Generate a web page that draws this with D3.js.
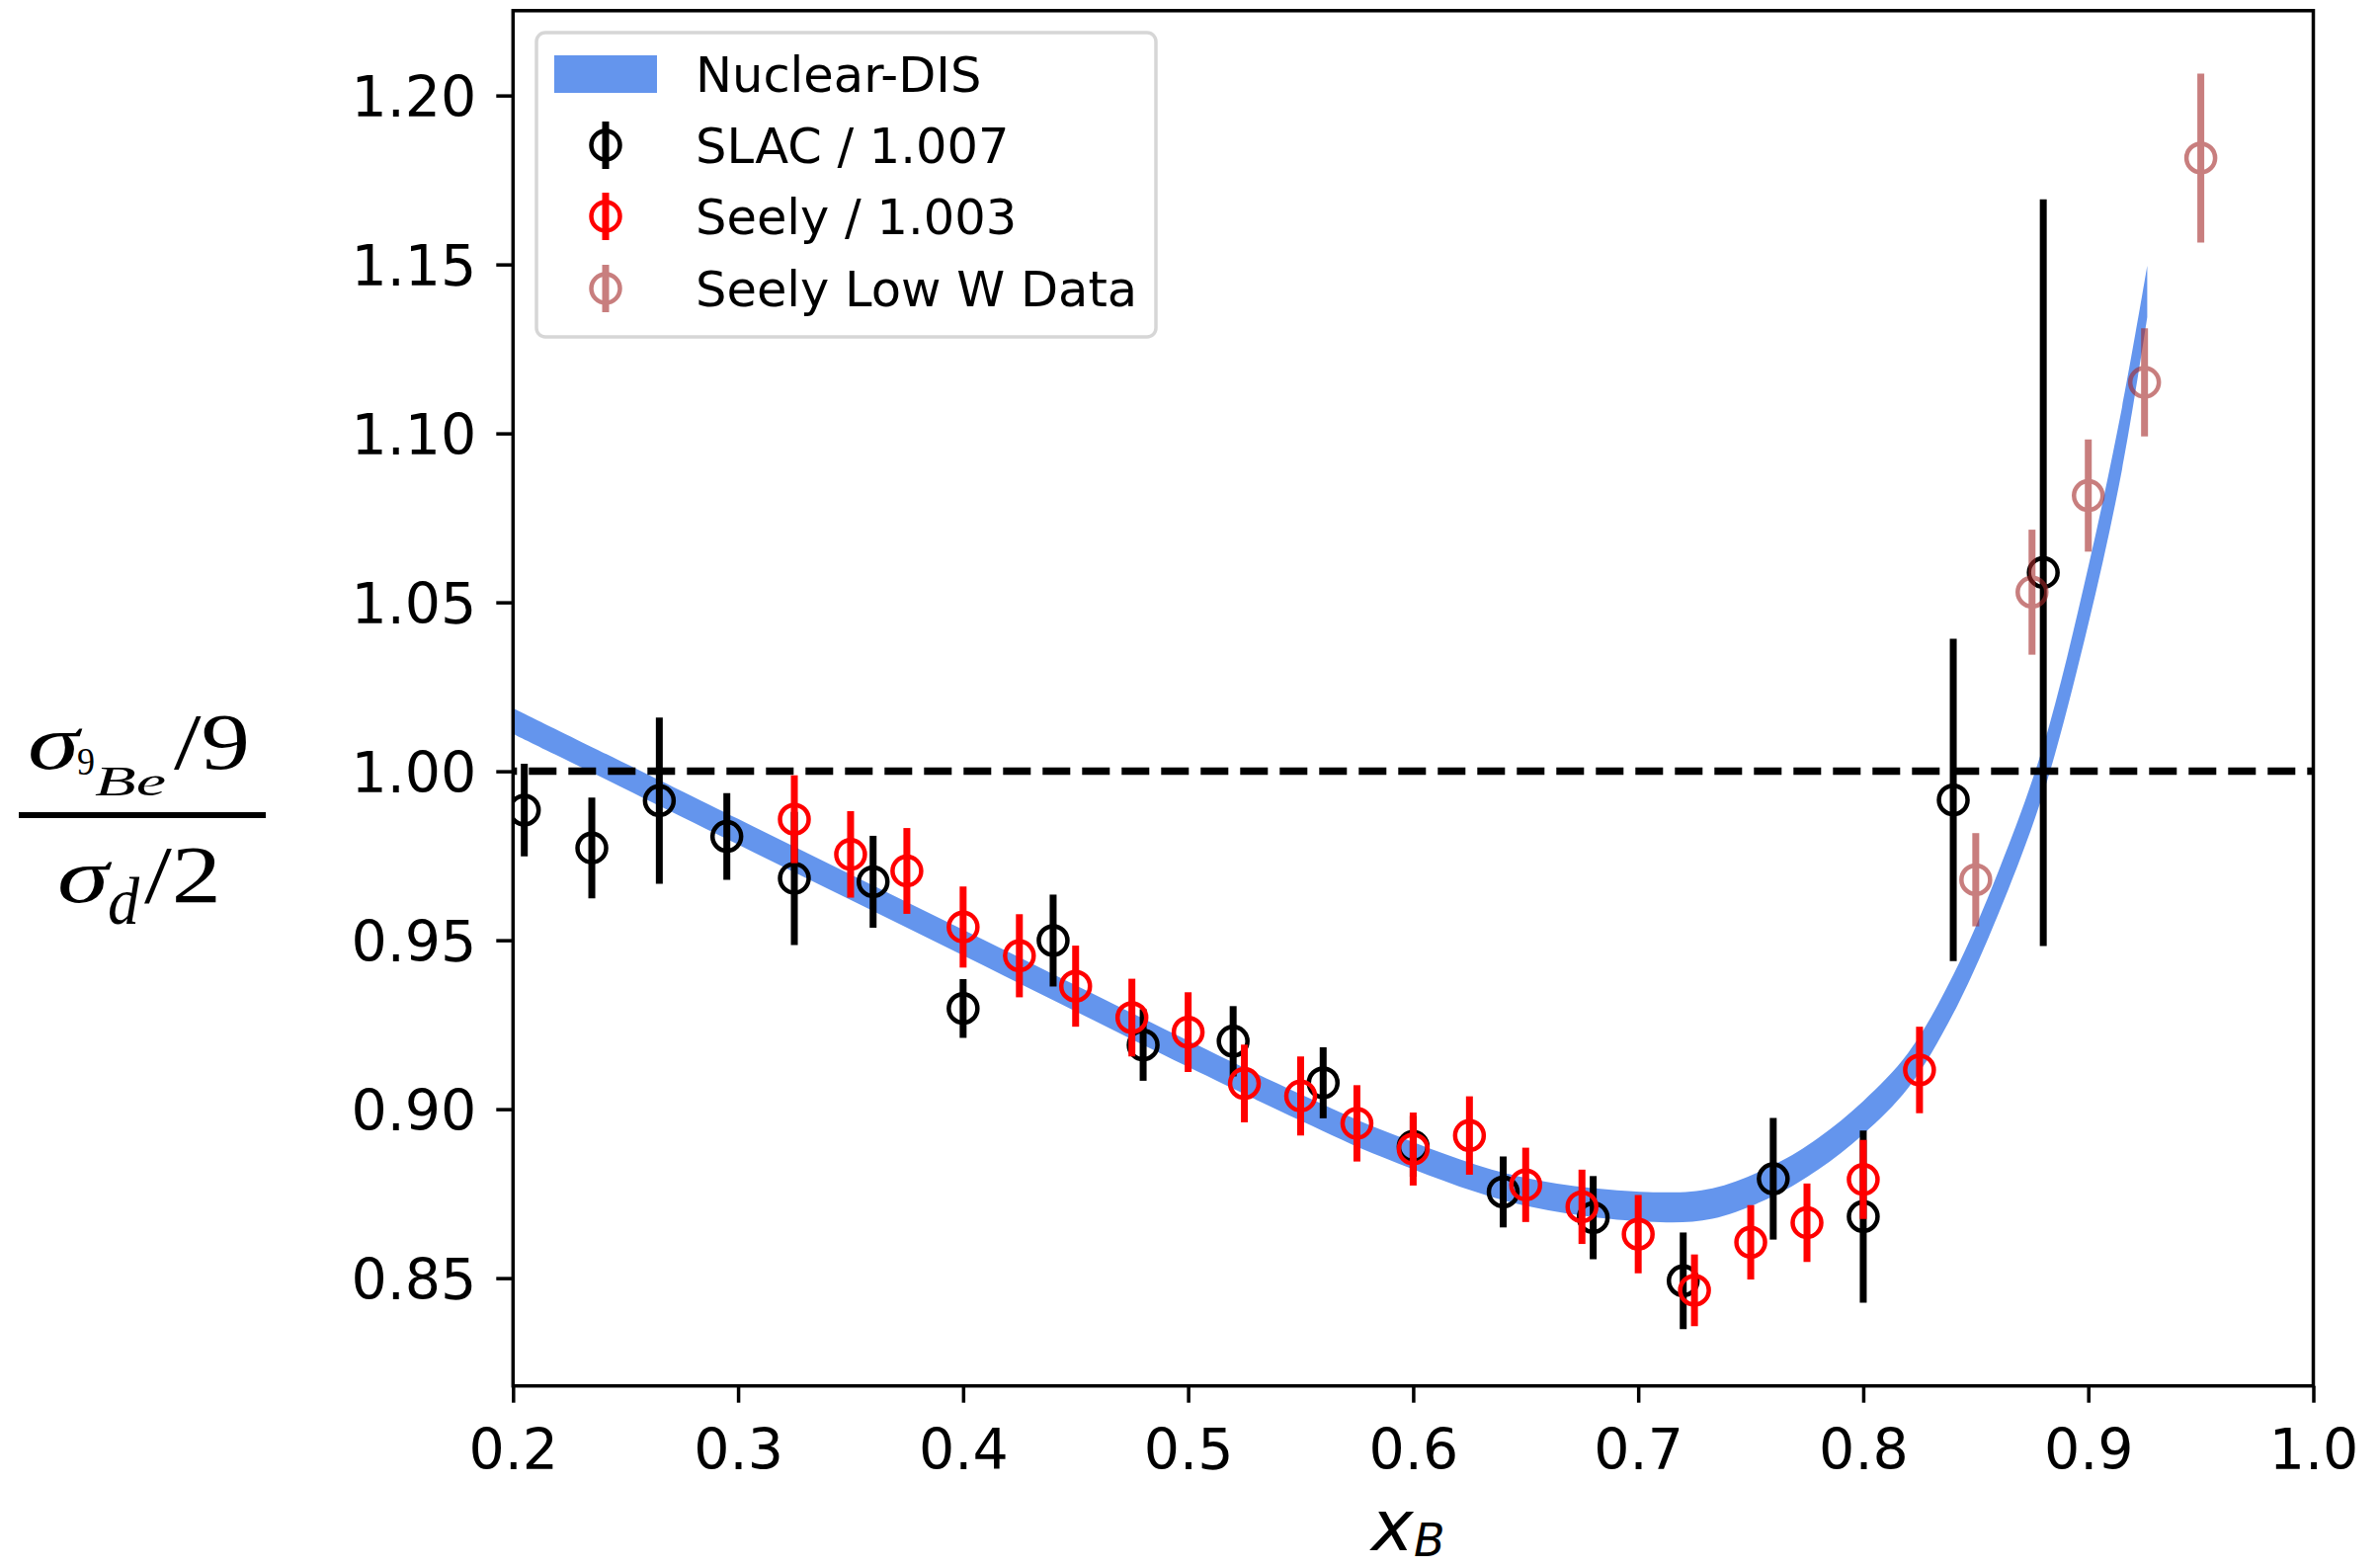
<!DOCTYPE html>
<html>
<head>
<meta charset="utf-8">
<script src="https://cdn.jsdelivr.net/npm/d3@7"></script>
<style>
  body { margin: 0; background: #fff; }
  svg { display: block; }
</style>
</head>
<body>
<script>
// values

// Nuclear-DIS band: x, centre and half width
var bandX    = [0.200, 0.300, 0.400, 0.500, 0.550, 0.587, 0.645, 0.704, 0.733, 0.761, 0.780, 0.800, 0.820, 0.840, 0.860, 0.880, 0.900, 0.915, 0.9262];
var bandMid  = [1.0149, 0.9821, 0.9493, 0.9164, 0.9005, 0.8896, 0.8763, 0.8711, 0.8721, 0.8792, 0.8868, 0.8975, 0.9115, 0.9340, 0.9640, 1.0005, 1.0520, 1.0985, 1.1420];
var bandHalf = [0.0038, 0.0038, 0.0038, 0.0039, 0.0039, 0.0040, 0.0041, 0.0044, 0.0045, 0.0046, 0.0047, 0.0049, 0.0052, 0.0057, 0.0063, 0.0070, 0.0085, 0.0092, 0.0076];

// SLAC / 1.007
var slacX   = [0.205, 0.235, 0.265, 0.295, 0.325, 0.36, 0.40, 0.44, 0.48, 0.52, 0.56, 0.60, 0.64, 0.68, 0.72, 0.76, 0.80, 0.84, 0.88];
var slacY   = [0.9885, 0.9773, 0.9913, 0.9807, 0.9683, 0.9673, 0.9298, 0.9499, 0.9190, 0.9201, 0.9078, 0.8890, 0.8755, 0.8679, 0.8492, 0.8794, 0.8682, 0.9915, 1.0588];
var slacErr = [0.0137, 0.0149, 0.0246, 0.0128, 0.0197, 0.0136, 0.0087, 0.0136, 0.0106, 0.0104, 0.0105, 0.0090, 0.0105, 0.0123, 0.0143, 0.0180, 0.0255, 0.0477, 0.1105];

// Seely / 1.003
var seelyX   = [0.325, 0.35, 0.375, 0.40, 0.425, 0.45, 0.475, 0.50, 0.525, 0.55, 0.575, 0.60, 0.625, 0.65, 0.675, 0.70, 0.725, 0.75, 0.775, 0.80, 0.825];
var seelyY   = [0.9858, 0.9754, 0.9705, 0.9539, 0.9454, 0.9364, 0.9271, 0.9228, 0.9076, 0.9039, 0.8958, 0.8882, 0.8922, 0.8776, 0.8711, 0.8630, 0.8464, 0.8606, 0.8664, 0.8792, 0.9116];
var seelyErr = [0.0130, 0.0128, 0.0127, 0.0120, 0.0123, 0.0120, 0.0115, 0.0118, 0.0115, 0.0117, 0.0113, 0.0108, 0.0116, 0.0110, 0.0110, 0.0116, 0.0106, 0.0110, 0.0116, 0.0117, 0.0128];

// Seely Low W Data
var lowWX   = [0.85, 0.875, 0.90, 0.925, 0.95];
var lowWY   = [0.9679, 1.0530, 1.0816, 1.1151, 1.1815];
var lowWErr = [0.0138, 0.0185, 0.0166, 0.0160, 0.0250];

var xTicks = [0.2, 0.3, 0.4, 0.5, 0.6, 0.7, 0.8, 0.9, 1.0];
var yTicks = [0.85, 0.90, 0.95, 1.00, 1.05, 1.10, 1.15, 1.20];
var legendLabels = ["Nuclear-DIS", "SLAC / 1.007", "Seely / 1.003", "Seely Low W Data"];

// layout
var W = 2409, H = 1586;
var plot = {left: 519.3, right: 2341.5, top: 10.8, bottom: 1402.7};

var svg = d3.select("body").append("svg")
    .attr("width", W)
    .attr("height", H);

var x = d3.scaleLinear().domain([0.2, 1.0]).range([plot.left, plot.right]);
var y = d3.scaleLinear().domain([0.8181, 1.2251]).range([plot.bottom, plot.top]);

svg.append("clipPath").attr("id", "clip")
  .append("rect")
    .attr("x", plot.left).attr("y", plot.top)
    .attr("width", plot.right - plot.left)
    .attr("height", plot.bottom - plot.top);

var g = svg.append("g").attr("clip-path", "url(#clip)");

// band
var band = bandX.map(function(d, i) { return {x: d, lo: bandMid[i] - bandHalf[i], hi: bandMid[i] + bandHalf[i]}; });
g.append("path")
  .datum(band)
  .attr("fill", "#6495ED")
  .attr("d", d3.area()
      .curve(d3.curveCatmullRom.alpha(0.5))
      .x(function(d) { return x(d.x); })
      .y0(function(d) { return y(d.lo); })
      .y1(function(d) { return y(d.hi); }));

// dashed line at 1
g.append("line")
  .attr("x1", plot.left).attr("x2", plot.right)
  .attr("y1", y(1)).attr("y2", y(1))
  .attr("stroke", "#000")
  .attr("stroke-width", 7.5)
  .attr("stroke-dasharray", "28,12")
  .attr("stroke-dashoffset", 24);

function drawSeries(xs, ys, es, colour, alpha) {
  var pts = xs.map(function(d, i) { return {x: d, y: ys[i], e: es[i]}; });
  var s = g.append("g").attr("opacity", alpha);
  var grp = s.selectAll("g").data(pts).enter().append("g");
  grp.append("line")
    .attr("x1", function(d) { return x(d.x); })
    .attr("x2", function(d) { return x(d.x); })
    .attr("y1", function(d) { return y(d.y - d.e); })
    .attr("y2", function(d) { return y(d.y + d.e); })
    .attr("stroke", colour)
    .attr("stroke-width", 7);
  grp.append("circle")
    .attr("cx", function(d) { return x(d.x); })
    .attr("cy", function(d) { return y(d.y); })
    .attr("r", 14.5)
    .attr("fill", "none")
    .attr("stroke", colour)
    .attr("stroke-width", 4.5);
}

drawSeries(slacX, slacY, slacErr, "#000000", 1);
drawSeries(seelyX, seelyY, seelyErr, "#ff0000", 1);
// low W points: each mark separately transparent so overlaps darken
lowWX.forEach(function(d, i) {
  drawSeries([d], [lowWY[i]], [lowWErr[i]], "#a52a2a", 0.6);
});

// axes
var fontTick = "'DejaVu Sans', sans-serif";

var xAxis = svg.append("g")
  .attr("transform", "translate(0," + plot.bottom + ")")
  .call(d3.axisBottom(x).tickValues(xTicks).tickFormat(d3.format(".1f"))
        .tickSize(17).tickPadding(27).tickSizeOuter(0));
var yAxis = svg.append("g")
  .attr("transform", "translate(" + plot.left + ",0)")
  .call(d3.axisLeft(y).tickValues(yTicks).tickFormat(d3.format(".2f"))
        .tickSize(17).tickPadding(20).tickSizeOuter(0));

[xAxis, yAxis].forEach(function(a) {
  a.select(".domain").remove();
  a.selectAll(".tick line").attr("stroke", "#000").attr("stroke-width", 3.5);
  a.selectAll(".tick text")
    .attr("fill", "#000")
    .style("font-family", fontTick)
    .style("font-size", "57px");
});
yAxis.selectAll(".tick text").attr("dy", "0.37em");

// frame
svg.append("rect")
  .attr("x", plot.left).attr("y", plot.top)
  .attr("width", plot.right - plot.left)
  .attr("height", plot.bottom - plot.top)
  .attr("fill", "none")
  .attr("stroke", "#000")
  .attr("stroke-width", 3.5);

// x label
var xl = svg.append("text")
  .attr("x", 1388).attr("y", 1569)
  .style("font-family", fontTick)
  .style("font-style", "italic")
  .attr("fill", "#000");
xl.append("tspan").style("font-size", "72px").text("x");
xl.append("tspan").attr("x", 1431).attr("y", 1575).style("font-size", "46px").text("B");

// y label (fraction), each piece fitted to its box in the reference
var serif = "'Liberation Serif', 'Times New Roman', serif";
var yl = svg.append("g").attr("fill", "#000").style("font-family", serif);
function glyph(txt, gx, gy, size, italic, w) {
  yl.append("text")
    .attr("x", gx).attr("y", gy)
    .attr("textLength", w)
    .attr("lengthAdjust", "spacingAndGlyphs")
    .style("font-size", size + "px")
    .style("font-style", italic ? "italic" : "normal")
    .text(txt);
}
glyph("\u03C3", 28, 778, 78, true, 52);
glyph("9", 78, 784, 41, false, 18);
glyph("Be", 96, 805, 43, true, 72);
glyph("/9", 176, 778, 81, false, 77);
yl.append("line")
  .attr("x1", 19).attr("x2", 269)
  .attr("y1", 825).attr("y2", 825)
  .attr("stroke", "#000").attr("stroke-width", 6);
glyph("\u03C3", 58, 913, 78, true, 52);
glyph("d", 109, 935, 68, true, 32);
glyph("/2", 146, 913, 82, false, 78);

// legend
var leg = svg.append("g");
leg.append("rect")
  .attr("x", 543).attr("y", 33)
  .attr("width", 627).attr("height", 308)
  .attr("rx", 9)
  .attr("fill", "#fff")
  .attr("stroke", "#d6d6d6")
  .attr("stroke-width", 3.5);

var rowY = [75, 147, 219, 292];
leg.append("rect")
  .attr("x", 561).attr("y", 56)
  .attr("width", 104).attr("height", 38)
  .attr("fill", "#6495ED");

var handles = [
  {c: "#000000", a: 1},
  {c: "#ff0000", a: 1},
  {c: "#a52a2a", a: 0.6}
];
handles.forEach(function(h, i) {
  var hy = rowY[i + 1];
  var hg = leg.append("g").attr("opacity", h.a);
  hg.append("line")
    .attr("x1", 613).attr("x2", 613)
    .attr("y1", hy - 24).attr("y2", hy + 24)
    .attr("stroke", h.c).attr("stroke-width", 7);
  hg.append("circle")
    .attr("cx", 613).attr("cy", hy).attr("r", 14.5)
    .attr("fill", "none").attr("stroke", h.c).attr("stroke-width", 4.5);
});

leg.selectAll("text.lab").data(legendLabels).enter().append("text")
  .attr("class", "lab")
  .attr("x", 704)
  .attr("y", function(d, i) { return rowY[i] + 18; })
  .style("font-family", fontTick)
  .style("font-size", "49.5px")
  .attr("fill", "#000")
  .text(function(d) { return d; });
</script>
</body>
</html>
